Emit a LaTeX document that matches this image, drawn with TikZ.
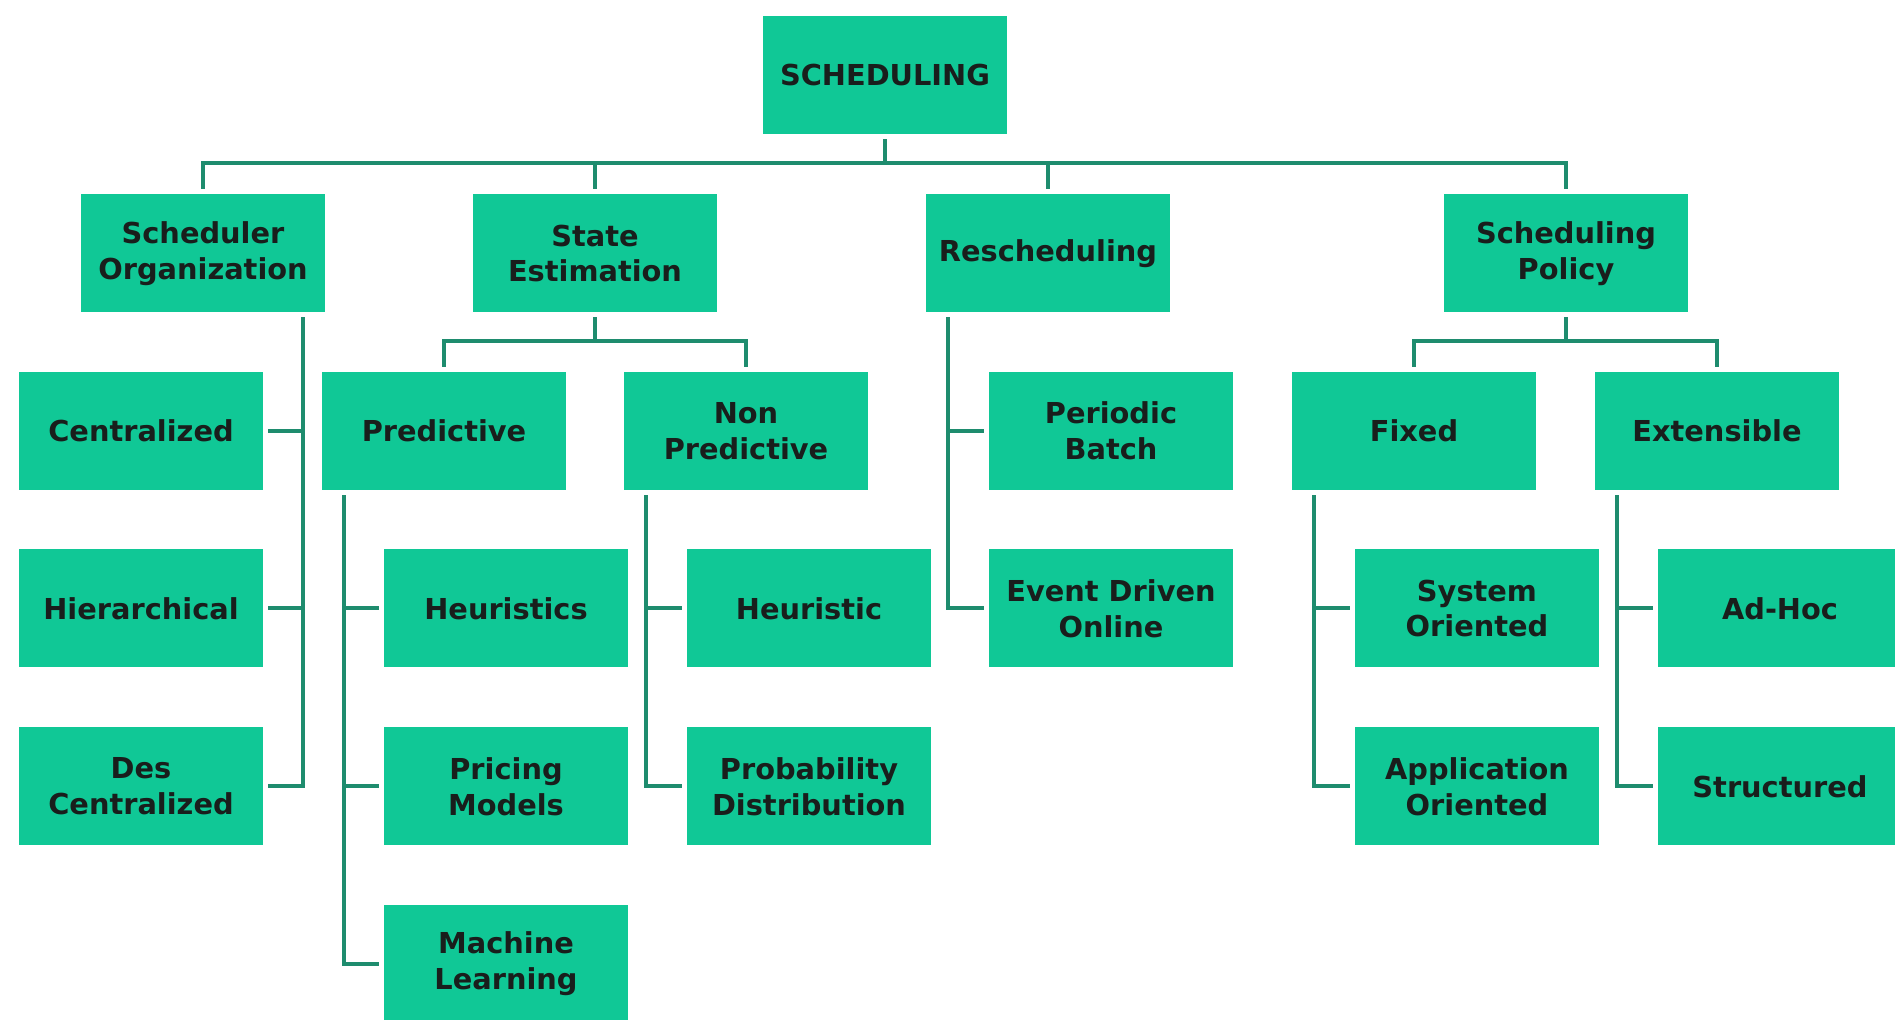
\documentclass[tikz,border=0pt]{standalone}
\usepackage{fontspec}
\setmainfont{DejaVu Sans}
\definecolor{boxgreen}{RGB}{16,200,150}
\definecolor{linegreen}{RGB}{30,140,110}
\definecolor{txt}{RGB}{25,30,28}
\tikzset{
  box/.style={fill=boxgreen, text=txt, minimum width=2.44cm, minimum height=1.18cm,
    inner sep=0pt, outer sep=0.07cm, align=center,
    font=\fontsize{8.2}{10.2}\selectfont\bfseries},
  link/.style={draw=linegreen, line width=0.04cm}
}
\begin{document}
\begin{tikzpicture}[line cap=rect]
		\useasboundingbox (0,0) rectangle (18.95,10.20);
		% root and first level
		\node[box] (root) at (8.85,9.445) {SCHEDULING};
		\node[box] (org) at (2.03,7.665) {Scheduler\\Organization};
		\node[box] (est) at (5.95,7.665) {State\\Estimation};
		\node[box] (resch) at (10.48,7.665) {Rescheduling};
		\node[box] (policy) at (15.66,7.665) {Scheduling\\Policy};
		% second level
		\node[box] (central) at (1.41,5.89) {Centralized};
		\node[box] (hier) at (1.41,4.115) {Hierarchical};
		\node[box] (des) at (1.41,2.335) {Des\\Centralized};
		\node[box] (pred) at (4.44,5.89) {Predictive};
		\node[box] (nonpred) at (7.46,5.89) {Non\\Predictive};
		\node[box] (periodic) at (11.11,5.89) {Periodic\\Batch};
		\node[box] (event) at (11.11,4.115) {Event Driven\\Online};
		\node[box] (fixed) at (14.14,5.89) {Fixed};
		\node[box] (extens) at (17.17,5.89) {Extensible};
		% third level
		\node[box] (heurs) at (5.06,4.115) {Heuristics};
		\node[box] (pricing) at (5.06,2.335) {Pricing\\Models};
		\node[box] (ml) at (5.06,0.56) {Machine\\Learning};
		\node[box] (heur) at (8.09,4.115) {Heuristic};
		\node[box] (prob) at (8.09,2.335) {Probability\\Distribution};
		\node[box] (sysor) at (14.77,4.115) {System\\Oriented};
		\node[box] (appor) at (14.77,2.335) {Application\\Oriented};
		\node[box] (adhoc) at (17.80,4.115) {Ad-Hoc};
		\node[box] (struct) at (17.80,2.335) {Structured};
		% buses
		\foreach \c in {org,est,resch,policy}
		\draw[link] (root.south) -- ++(0,-0.22) -| (\c.north);
		\foreach \c in {pred,nonpred}
		\draw[link] (est.south) -- ++(0,-0.22) -| (\c.north);
		\foreach \c in {fixed,extens}
		\draw[link] (policy.south) -- ++(0,-0.22) -| (\c.north);
		% side branches
		\foreach \c in {central,hier,des}
		\draw[link] ([xshift=-0.29cm]org.south east) |- (\c.east);
		\foreach \c in {heurs,pricing,ml}
		\draw[link] ([xshift=0.29cm]pred.south west) |- (\c.west);
		\foreach \c in {heur,prob}
		\draw[link] ([xshift=0.29cm]nonpred.south west) |- (\c.west);
		\foreach \c in {periodic,event}
		\draw[link] ([xshift=0.29cm]resch.south west) |- (\c.west);
		\foreach \c in {sysor,appor}
		\draw[link] ([xshift=0.29cm]fixed.south west) |- (\c.west);
		\foreach \c in {adhoc,struct}
		\draw[link] ([xshift=0.29cm]extens.south west) |- (\c.west);
\end{tikzpicture}
\end{document}
